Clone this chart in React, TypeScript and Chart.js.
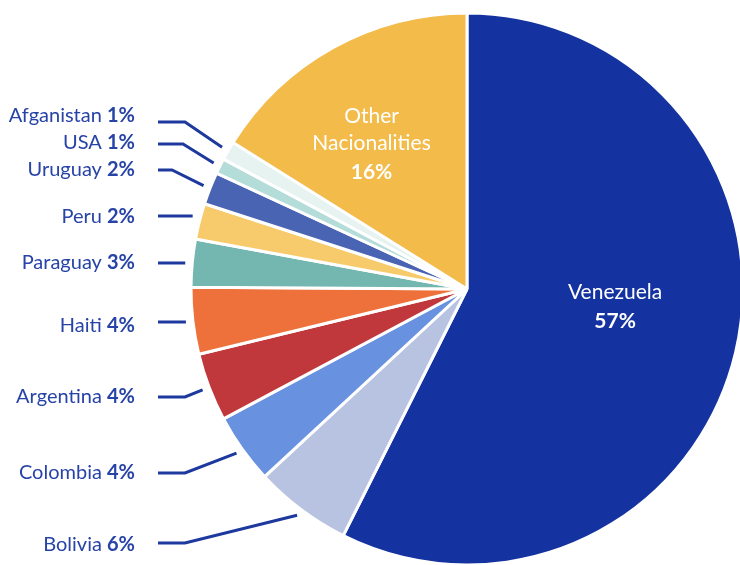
import React, { useEffect, useRef } from "react";
import { Chart, registerables } from "chart.js";

Chart.register(...registerables);

const COUNTRIES = [
  "Venezuela",
  "Bolivia",
  "Colombia",
  "Argentina",
  "Haiti",
  "Paraguay",
  "Peru",
  "Uruguay",
  "USA",
  "Afganistan",
  "Other Nacionalities",
];
const SHARES = [57.4, 5.7, 4.1, 4.0, 3.9, 2.8, 2.1, 1.9, 0.9, 1.1, 16.1];
const COLORS = [
  "#1433A0",
  "#B8C3E1",
  "#6892DF",
  "#C0383B",
  "#EE703A",
  "#74B7B1",
  "#F7CB6B",
  "#4A64B4",
  "#B4DCD8",
  "#E6F3F1",
  "#F3BB4A",
];

// layout of the outside labels (index -> text y, leader y, elbow x)
const OUTSIDE = [
  { i: 1, ty: 545, ly: 543, ex: 185 },
  { i: 2, ty: 473, ly: 473, ex: 185 },
  { i: 3, ty: 397, ly: 397, ex: 185 },
  { i: 4, ty: 326, ly: 322, ex: 0 },
  { i: 5, ty: 263, ly: 263, ex: 0 },
  { i: 6, ty: 217, ly: 216, ex: 0 },
  { i: 7, ty: 170, ly: 170, ex: 172 },
  { i: 8, ty: 143, ly: 144, ex: 183 },
  { i: 9, ty: 116, ly: 122, ex: 185 },
];
// inside labels: index -> angle (deg clockwise from top), radius fraction, lines
const INSIDE = [
  { i: 0, ang: 96.6, rf: 0.54, lines: ["Venezuela"] },
  { i: 10, ang: 326.7, rf: 0.63, lines: ["Other", "Nacionalities"] },
];

const FONT = "Lato, 'Open Sans', sans-serif";
const TEXT_COLOR = "#2743A7";
const LINE_COLOR = "#1D399E";

const labelPlugin = {
  id: "sliceLabels",
  afterDraw(chart: any) {
    const ctx = chart.ctx as CanvasRenderingContext2D;
    const meta = chart.getDatasetMeta(0);
    const total = SHARES.reduce((a, b) => a + b, 0);
    const pct = (i: number) => Math.round((SHARES[i] / total) * 100) + "%";
    ctx.save();
    // outside labels
    OUTSIDE.forEach((o) => {
      const arc = meta.data[o.i];
      const p = arc.getProps(["x", "y", "startAngle", "endAngle", "outerRadius"], true);
      const mid = (p.startAngle + p.endAngle) / 2;
      const r = p.outerRadius + 7;
      const exx = p.x + Math.cos(mid) * r;
      const eyy = p.y + Math.sin(mid) * r;
      ctx.strokeStyle = LINE_COLOR;
      ctx.lineWidth = 3;
      ctx.beginPath();
      ctx.moveTo(158, o.ly);
      if (o.ex > 0) {
        ctx.lineTo(o.ex, o.ly);
        ctx.lineTo(exx, eyy);
      } else {
        ctx.lineTo(exx, o.ly);
      }
      ctx.stroke();
      // text
      ctx.fillStyle = TEXT_COLOR;
      ctx.textBaseline = "middle";
      ctx.textAlign = "right";
      const pt = pct(o.i);
      ctx.font = `bold 20px ${FONT}`;
      const pw = ctx.measureText(pt).width;
      ctx.fillText(pt, 135, o.ty);
      ctx.font = `20px ${FONT}`;
      ctx.fillText(COUNTRIES[o.i] + " ", 135 - pw, o.ty);
    });
    // inside labels
    INSIDE.forEach((o) => {
      const arc = meta.data[o.i];
      const p = arc.getProps(["x", "y", "outerRadius"], true);
      const a = ((o.ang - 90) * Math.PI) / 180;
      const cx = p.x + Math.cos(a) * p.outerRadius * o.rf;
      const cy = p.y + Math.sin(a) * p.outerRadius * o.rf;
      const n = o.lines.length + 1;
      const lh = 27;
      const y0 = cy - ((n - 1) * lh) / 2;
      ctx.fillStyle = "#FFFFFF";
      ctx.textAlign = "center";
      ctx.textBaseline = "middle";
      o.lines.forEach((t, k) => {
        ctx.font = `21px ${FONT}`;
        ctx.fillText(t, cx, y0 + k * lh);
      });
      ctx.font = `bold 21px ${FONT}`;
      ctx.fillText(pct(o.i), cx, y0 + o.lines.length * lh + 2);
    });
    ctx.restore();
  },
};

export default function App() {
  const ref = useRef<HTMLCanvasElement>(null);
  useEffect(() => {
    if (!ref.current) return;
    const chart = new Chart(ref.current, {
      type: "pie",
      data: {
        labels: COUNTRIES,
        datasets: [
          {
            data: SHARES,
            backgroundColor: COLORS,
            borderColor: "#FFFFFF",
            borderWidth: 3,
            hoverOffset: 0,
            offset: 0,
          },
        ],
      },
      options: {
        responsive: false,
        animation: false,
        events: [],
        layout: { padding: { left: 189.5, top: 11.5, right: 15.5, bottom: 33.5 } },
        plugins: {
          legend: { display: false },
          tooltip: { enabled: false },
        },
      },
      plugins: [labelPlugin],
    });
    return () => chart.destroy();
  }, []);
  return (
    <div
      style={{
        position: "fixed",
        left: 0,
        top: 0,
        width: 740,
        height: 565,
        overflow: "hidden",
        background: "#FFFFFF",
      }}
    >
      <canvas ref={ref} width={760} height={600} style={{ width: 760, height: 600, display: "block" }} />
    </div>
  );
}
